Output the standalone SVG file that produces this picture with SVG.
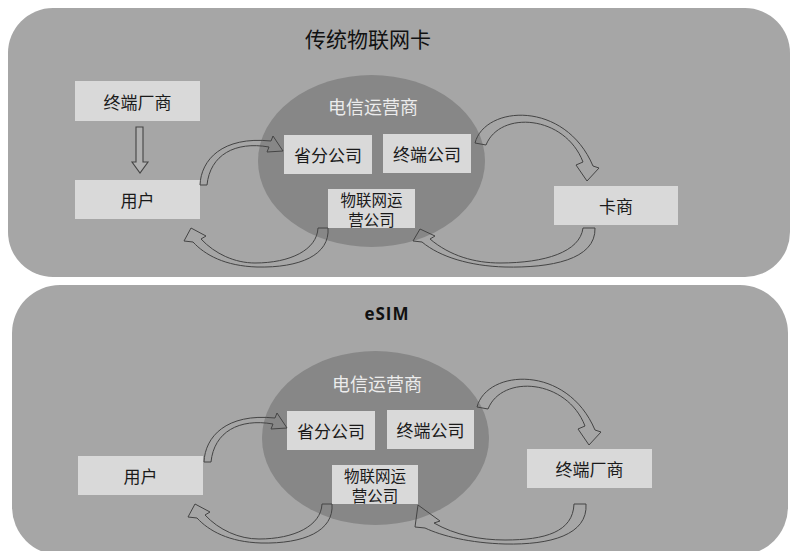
<svg xmlns="http://www.w3.org/2000/svg" width="792" height="551" viewBox="0 0 792 551">
<style>
.panel{fill:#a6a6a6}
.ell{fill:#878787}
.box{fill:#d9d9d9}
.t{font-family:"Noto Sans CJK SC","Noto Sans",sans-serif;font-size:17px;fill:#1a1a1a;text-anchor:middle;dominant-baseline:central}
.two{font-size:15.5px}
.ttl{font-size:21px;fill:#111}
.op{fill:#ececec;font-size:18px}
.en{font-family:"Open Sans","Liberation Sans",sans-serif;font-weight:bold;font-size:17px;fill:#111;text-anchor:middle;letter-spacing:1px}
.arr{fill:none;stroke:#444;stroke-width:1;stroke-linejoin:miter}
.blk{fill:#b0b0b0;stroke:#444;stroke-width:1.1}
</style>
<rect width="792" height="551" fill="#ffffff"/>

<g id="panel-top">
  <rect class="panel" x="8" y="8" width="782" height="269" rx="45" ry="45"/>
  <text class="t ttl" x="368" y="38">传统物联网卡</text>
</g>
<g id="panel-bottom">
  <rect class="panel" x="12" y="285" width="776" height="270" rx="48" ry="48"/>
  <text class="en" x="387" y="320">eSIM</text>
</g>

<!-- top section nodes -->
<g id="operator-top">
  <ellipse class="ell" cx="371.5" cy="161" rx="113.5" ry="86"/>
  <text class="t op" x="373" y="106">电信运营商</text>
</g>
<g id="maker-top">
  <rect class="box" x="75" y="81" width="125" height="40"/>
  <text class="t" x="137.5" y="101">终端厂商</text>
</g>
<g id="user-top">
  <rect class="box" x="75" y="180" width="125" height="39"/>
  <text class="t" x="137.5" y="199.5">用户</text>
</g>
<g id="province-top">
  <rect class="box" x="284" y="135" width="88" height="39"/>
  <text class="t" x="328" y="154.5">省分公司</text>
</g>
<g id="terminal-co-top">
  <rect class="box" x="383" y="134" width="88" height="39"/>
  <text class="t" x="427" y="153.5">终端公司</text>
</g>
<g id="iot-co-top">
  <rect class="box" x="328" y="189" width="87" height="39"/>
  <text class="t two" x="371.5" y="198.5">物联网运<tspan x="371.5" dy="20">营公司</tspan></text>
</g>
<g id="card-vendor-top">
  <rect class="box" x="554" y="186" width="124" height="39"/>
  <text class="t" x="616" y="205.5">卡商</text>
</g>

<!-- bottom section nodes -->
<g id="operator-bottom">
  <ellipse class="ell" cx="375.5" cy="438" rx="113.5" ry="87"/>
  <text class="t op" x="377" y="383">电信运营商</text>
</g>
<g id="user-bottom">
  <rect class="box" x="78" y="456" width="125" height="39"/>
  <text class="t" x="140.5" y="475.5">用户</text>
</g>
<g id="province-bottom">
  <rect class="box" x="287" y="411" width="88" height="39"/>
  <text class="t" x="331" y="430.5">省分公司</text>
</g>
<g id="terminal-co-bottom">
  <rect class="box" x="387" y="410" width="87" height="39"/>
  <text class="t" x="430.5" y="429.5">终端公司</text>
</g>
<g id="iot-co-bottom">
  <rect class="box" x="332" y="465" width="86" height="39"/>
  <text class="t two" x="375" y="474.5">物联网运<tspan x="375" dy="20">营公司</tspan></text>
</g>
<g id="maker-bottom">
  <rect class="box" x="527" y="449" width="125" height="39"/>
  <text class="t" x="589.5" y="468.5">终端厂商</text>
</g>

<g id="connectors">
  <!-- top: maker -> user -->
  <path class="blk" d="M136 127 L143 127 L143 162 L148 162 L140 173 L132 162 L136 162 Z"/>
  <!-- top: user -> province -->
  <path class="arr" d="M200 185 C201 160 222 136 271 141 L273 136 L283 151 L267 152 L269 147 C235 141 210 155 207 185 Z"/>
  <!-- top: iot -> user -->
  <path class="arr" d="M318 228 L328 228 C330 255 300 268 257 267 C225 266 205 255 193 242 L184 241 L191 228 L206 236 L201 239 C215 254 235 263 255 263 C290 263 317 250 318 228 Z"/>
  <!-- top: terminal co -> card vendor -->
  <path class="arr" d="M475 143 C485 105 565 100 593 166 L599 168 L587 181 L576 165 L583 162 C565 115 500 110 486 145 Z"/>
  <!-- top: card vendor -> iot -->
  <path class="arr" d="M583 228 L595 228 C596 260 550 268 505 267 C470 266 440 257 422 242 L413 241 L420 229 L435 236 L430 239 C450 256 475 263 500 263 C545 263 580 252 583 228 Z"/>
  <!-- bottom -->
  <path class="arr" transform="translate(4,277)" d="M200 185 C201 160 222 136 271 141 L273 136 L283 151 L267 152 L269 147 C235 141 210 155 207 185 Z"/>
  <path class="arr" transform="translate(4,276)" d="M318 228 L328 228 C330 255 300 268 257 267 C225 266 205 255 193 242 L184 241 L191 228 L206 236 L201 239 C215 254 235 263 255 263 C290 263 317 250 318 228 Z"/>
  <path class="arr" transform="translate(2,264)" d="M475 143 C485 105 565 100 593 166 L599 168 L587 181 L576 165 L583 162 C565 115 500 110 486 145 Z"/>
  <path class="arr" d="M574 504 L586 504 C588 535 550 545 505 544 C470 543 442 536 425 528 L415 527 L418 505 L440 521 L434 523 C455 535 480 540 505 540 C545 540 573 532 574 504 Z"/>
</g>
</svg>
